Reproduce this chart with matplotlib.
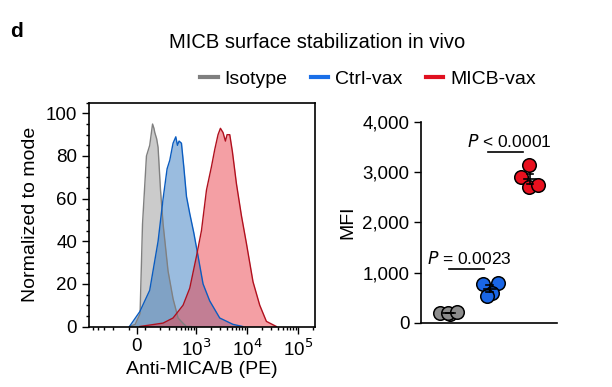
import numpy as np
import matplotlib.pyplot as plt
from matplotlib.ticker import FixedLocator, MultipleLocator, FuncFormatter

plt.rcParams['font.family'] = ['Liberation Sans', 'DejaVu Sans']

# histogram traces (fluorescence, % of mode)
iso_x = [-90, -20, 40, 70, 107, 124, 141, 150, 156, 170, 181, 202, 227, 284, 356, 447, 560, 653, 800]
iso_y = [0, 1, 6, 48, 80, 85, 95, 93, 91, 88, 84, 64, 48, 26, 13, 4, 1.5, 0, 0]
ctrl_x = [-90, 37, 124, 181, 227, 272, 307, 356, 403, 434, 467, 520, 578, 653, 757, 908,
          1102, 1380, 1866, 2931, 5346, 8279]
ctrl_y = [0, 7, 17, 40, 60, 74, 78, 86, 89, 85, 87, 86, 75, 61, 53, 44, 33, 20, 12, 4, 1, 0]
micb_x = [37, 227, 356, 560, 757, 1026, 1285, 1611, 2018, 2339, 2716, 3027, 3404, 3793,
          4083, 4613, 5200, 6237, 7816, 9795, 13183, 17865, 24155, 37931]
micb_y = [0, 1.6, 4, 10, 18, 33, 45, 64, 75, 83, 90, 93, 91, 87, 90, 90, 82, 67, 52, 39,
          21, 10, 2.4, 0]

# MFI per mouse
groups = ['Isotype', 'Ctrl-vax', 'MICB-vax']
mfi_iso = [200, 187, 195, 219]
mfi_ctrl = [784, 804, 605, 531]
mfi_micb = [3138, 2905, 2695, 2740]
p_labels = ['$P$ = 0.0023', '$P$ < 0.0001']

fills = ['#999999', '#377bc1', '#eb414b']
edges = ['#808080', '#0a5cc0', '#b0101e']
dots = ['#8c8c8c', '#1a66e6', '#e8101e']
leg_cols = ['#7f7f7f', '#1a6fe8', '#e01020']

fs_lab = 14
fs_tick = 13.5

fig = plt.figure(figsize=(6.12, 3.87), dpi=100)

# left: histograms
ax = fig.add_axes([0.1454, 0.1563, 0.3698, 0.5783])
for xs, ys, fc, ec in zip([iso_x, ctrl_x, micb_x], [iso_y, ctrl_y, micb_y], fills, edges):
    ax.fill_between(xs, ys, 0, color=fc, alpha=0.5, lw=0)
    ax.plot(xs, ys, color=ec, lw=1.0)
ax.set_xscale('symlog', linthresh=100, linscale=0.144)
ax.set_xlim(-600, 2.2e5)
ax.set_ylim(0, 105)
ax.xaxis.set_major_locator(FixedLocator([0, 1e3, 1e4, 1e5]))
ax.xaxis.set_major_formatter(FuncFormatter(
    lambda v, p: '0' if v == 0 else '10$^{%d}$' % round(np.log10(v))))
minor = [-500, -400, -300, -200, -100, 100, 200, 300, 400, 500, 600, 700, 800, 900]
for dec in [1e3, 1e4]:
    minor += [k * dec for k in range(2, 10)]
minor += [2e5]
ax.xaxis.set_minor_locator(FixedLocator(minor))
ax.set_yticks([0, 20, 40, 60, 80, 100])
ax.yaxis.set_minor_locator(MultipleLocator(5))
ax.tick_params(labelsize=fs_tick, width=1, length=5, direction='out')
ax.tick_params(which='minor', width=1, length=2.5)
for s in ax.spines.values():
    s.set_linewidth(1.2)
ax.set_xlabel('Anti-MICA/B (PE)', fontsize=fs_lab, labelpad=1)
ax.set_ylabel('Normalized to mode', fontsize=fs_lab, labelpad=5)

# right: MFI dot plot
bx = fig.add_axes([0.688, 0.1654, 0.222, 0.520])
offsets = [[-0.22, 0.03, -0.02, 0.2], [-0.16, 0.2, 0.06, -0.07], [-0.02, -0.23, -0.02, 0.2]]
for i, vals in enumerate([mfi_iso, mfi_ctrl, mfi_micb]):
    xs = [i + o for o in offsets[i]]
    bx.scatter(xs, vals, s=95, color=dots[i], edgecolor='black', lw=1.1, zorder=3)
    m = np.mean(vals)
    se = np.std(vals, ddof=1) / np.sqrt(len(vals))
    bx.plot([i - 0.15, i + 0.15], [m, m], color='black', lw=1.2, zorder=4)
    bx.plot([i, i], [m - se, m + se], color='black', lw=1.2, zorder=4)
    bx.plot([i - 0.08, i + 0.08], [m + se, m + se], color='black', lw=1.2, zorder=4)
    bx.plot([i - 0.08, i + 0.08], [m - se, m - se], color='black', lw=1.2, zorder=4)

bx.plot([0.0, 0.85], [1070, 1070], color='black', lw=1.2)
bx.text(0.5, 1120, p_labels[0], ha='center', va='bottom', fontsize=12.5)
bx.plot([0.97, 1.84], [3390, 3390], color='black', lw=1.2)
bx.text(1.5, 3440, p_labels[1], ha='center', va='bottom', fontsize=12.5)

bx.set_xlim(-0.7, 2.67)
bx.set_ylim(0, 4000)
bx.set_xticks([])
bx.set_yticks([0, 1000, 2000, 3000, 4000])
bx.yaxis.set_major_formatter(FuncFormatter(lambda v, p: f'{int(v):,}'))
bx.tick_params(labelsize=fs_tick, width=1, length=5)
bx.spines['top'].set_visible(False)
bx.spines['right'].set_visible(False)
for s in ['left', 'bottom']:
    bx.spines[s].set_linewidth(1.2)
bx.set_ylabel('MFI', fontsize=fs_lab, labelpad=4)

# title and legend
fig.text(0.518, 0.891, 'MICB surface stabilization in vivo', ha='center', va='center', fontsize=14.5)
handles = [plt.Line2D([], [], color=c, lw=3) for c in leg_cols]
fig.legend(handles, groups, loc='center', bbox_to_anchor=(0.601, 0.795), ncol=3, frameon=False,
           fontsize=14, handlelength=0.9, handletextpad=0.35, columnspacing=1.2)
fig.text(0.016, 0.905, 'd', fontsize=15, fontweight='bold')

fig.savefig('out.png', dpi=100)
